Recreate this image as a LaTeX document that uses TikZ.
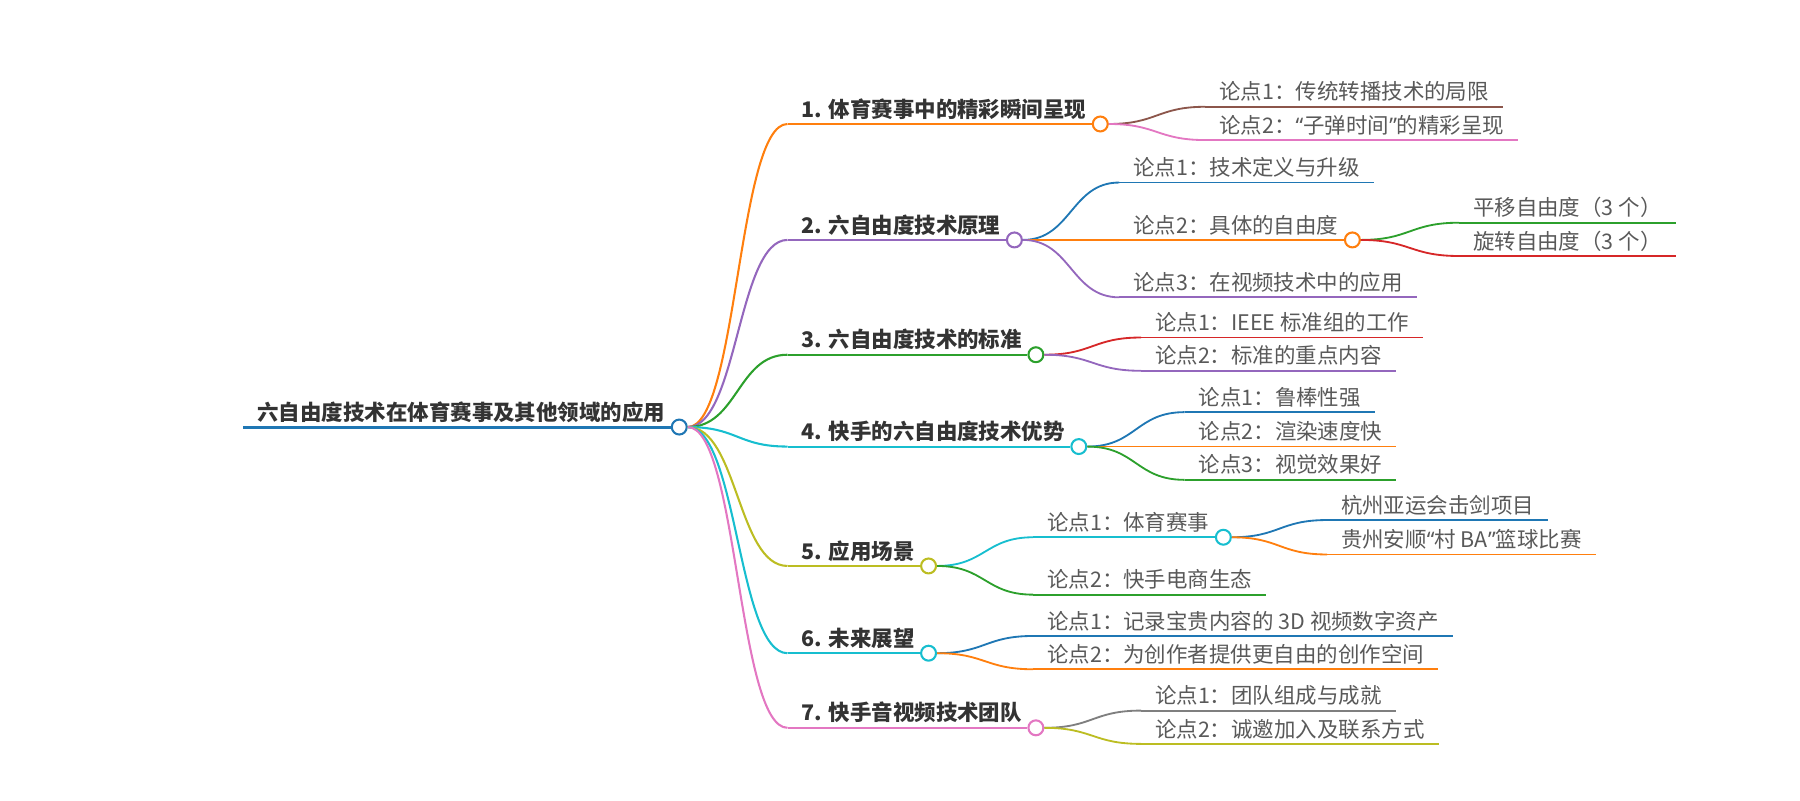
\documentclass[tikz,border=0pt]{standalone}
\usepackage{fontspec}
\setmainfont{Noto Sans CJK SC}
\newfontfamily\latinq{Noto Sans}
\usetikzlibrary{calc}
\definecolor{cblue}{HTML}{1F77B4}
\definecolor{corange}{HTML}{FF7F0E}
\definecolor{cgreen}{HTML}{2CA02C}
\definecolor{cred}{HTML}{D62728}
\definecolor{cpurple}{HTML}{9467BD}
\definecolor{cbrown}{HTML}{8C564B}
\definecolor{cpink}{HTML}{E377C2}
\definecolor{cgray}{HTML}{7F7F7F}
\definecolor{colive}{HTML}{BCBD22}
\definecolor{ccyan}{HTML}{17BECF}
\definecolor{txtdark}{HTML}{333333}
\definecolor{txtgray}{HTML}{595959}
\newcommand\lw{1.8pt}
\tikzset{
  lvlone/.style={anchor=base west, inner sep=0pt, font=\fontsize{18.7}{22}\selectfont\bfseries, text=txtdark},
  lvltwo/.style={anchor=base west, inner sep=0pt, font=\fontsize{18.7}{22}\selectfont, text=txtgray},
  link/.style={line width=\lw},
  dot/.style={circle, draw, fill=white, line width=1.8pt, minimum size=13pt, inner sep=0pt},
  sconn/.style={to path={let \p1=(\tikztostart), \p2=(\tikztotarget) in
     .. controls ({(\x1+\x2)/2},\y1) and ({(\x1+\x2)/2},\y2) .. (\tikztotarget)}}
}
\newcommand\qo{{\latinq “}}
\newcommand\qc{{\latinq ”}}
% leaf: name, colour, line start x, line y, style, text
\newcommand\leafnode[6]{%
  \coordinate (#1-s) at (#3,#4);
  \node[#5] (#1) at (#3+12,#4-6) {#6};
  \coordinate (#1-e) at ($(#1.east |- #1-s)+(12,0)$);
  \draw[link,#2] (#1-s) -- (#1-e);
}
% branch: name, colour, line start x, line y, style, text
\newcommand\branchnode[6]{%
  \coordinate (#1-s) at (#3,#4);
  \node[#5] (#1) at (#3+12,#4-6) {#6};
  \node[dot,draw=#2] (#1-c) at ($(#1.east |- #1-s)+(12,0)$) {};
  \draw[link,#2] (#1-s) -- (#1-c.west);
}
\begin{document}
\begin{tikzpicture}[x=1pt,y=-1pt]
\useasboundingbox (0,0) rectangle (1568,696.9);
% root
\renewcommand\lw{2.6pt}
\branchnode{r}{cblue}{212}{372}{lvlone}{六自由度技术在体育赛事及其他领域的应用}
% level one
\renewcommand\lw{1.8pt}
\branchnode{a}{corange}{686}{108}{lvlone}{1. 体育赛事中的精彩瞬间呈现}
\branchnode{b}{cpurple}{686}{209}{lvlone}{2. 六自由度技术原理}
\branchnode{c}{cgreen}{686}{309}{lvlone}{3. 六自由度技术的标准}
\branchnode{d}{ccyan}{686}{389}{lvlone}{4. 快手的六自由度技术优势}
\branchnode{e}{colive}{686}{493}{lvlone}{5. 应用场景}
\branchnode{f}{ccyan}{686}{569}{lvlone}{6. 未来展望}
\branchnode{g}{cpink}{686}{634}{lvlone}{7. 快手音视频技术团队}
\draw[link,corange] (r-c.east) to[sconn] (a-s);
\draw[link,cpurple] (r-c.east) to[sconn] (b-s);
\draw[link,cgreen] (r-c.east) to[sconn] (c-s);
\draw[link,ccyan] (r-c.east) to[sconn] (d-s);
\draw[link,colive] (r-c.east) to[sconn] (e-s);
\draw[link,ccyan] (r-c.east) to[sconn] (f-s);
\draw[link,cpink] (r-c.east) to[sconn] (g-s);
% level two
\renewcommand\lw{1.6pt}
\leafnode{a1}{cbrown}{1050}{93}{lvltwo}{论点1：传统转播技术的局限}
\leafnode{a2}{cpink}{1050}{122}{lvltwo}{论点2：\qo 子弹时间\qc 的精彩呈现}
\leafnode{b1}{cblue}{975}{159}{lvltwo}{论点1：技术定义与升级}
\branchnode{b2}{corange}{975}{209}{lvltwo}{论点2：具体的自由度}
\leafnode{b21}{cgreen}{1271}{194}{lvltwo}{平移自由度（3 个）}
\leafnode{b22}{cred}{1271}{223}{lvltwo}{旋转自由度（3 个）}
\leafnode{b3}{cpurple}{975}{259}{lvltwo}{论点3：在视频技术中的应用}
\leafnode{c1}{cred}{994}{294}{lvltwo}{论点1：IEEE 标准组的工作}
\leafnode{c2}{cpurple}{994}{323}{lvltwo}{论点2：标准的重点内容}
\leafnode{d1}{cblue}{1032}{359}{lvltwo}{论点1：鲁棒性强}
\leafnode{d2}{corange}{1032}{389}{lvltwo}{论点2：渲染速度快}
\leafnode{d3}{cgreen}{1032}{418}{lvltwo}{论点3：视觉效果好}
\branchnode{e1}{ccyan}{900}{468}{lvltwo}{论点1：体育赛事}
\leafnode{e11}{cblue}{1156}{453}{lvltwo}{杭州亚运会击剑项目}
\leafnode{e12}{corange}{1156}{483}{lvltwo}{贵州安顺\qo 村 BA\qc 篮球比赛}
\leafnode{e2}{cgreen}{900}{518}{lvltwo}{论点2：快手电商生态}
\leafnode{f1}{cblue}{900}{554}{lvltwo}{论点1：记录宝贵内容的 3D 视频数字资产}
\leafnode{f2}{corange}{900}{583}{lvltwo}{论点2：为创作者提供更自由的创作空间}
\leafnode{g1}{cgray}{994}{619}{lvltwo}{论点1：团队组成与成就}
\leafnode{g2}{colive}{994}{648}{lvltwo}{论点2：诚邀加入及联系方式}
% connectors
\draw[link,cbrown] (a-c.east) to[sconn] (a1-s);
\draw[link,cpink] (a-c.east) to[sconn] (a2-s);
\draw[link,cblue] (b-c.east) to[sconn] (b1-s);
\draw[link,corange] (b-c.east) to[sconn] (b2-s);
\draw[link,cpurple] (b-c.east) to[sconn] (b3-s);
\draw[link,cgreen] (b2-c.east) to[sconn] (b21-s);
\draw[link,cred] (b2-c.east) to[sconn] (b22-s);
\draw[link,cred] (c-c.east) to[sconn] (c1-s);
\draw[link,cpurple] (c-c.east) to[sconn] (c2-s);
\draw[link,cblue] (d-c.east) to[sconn] (d1-s);
\draw[link,corange] (d-c.east) to[sconn] (d2-s);
\draw[link,cgreen] (d-c.east) to[sconn] (d3-s);
\draw[link,ccyan] (e-c.east) to[sconn] (e1-s);
\draw[link,cgreen] (e-c.east) to[sconn] (e2-s);
\draw[link,cblue] (e1-c.east) to[sconn] (e11-s);
\draw[link,corange] (e1-c.east) to[sconn] (e12-s);
\draw[link,cblue] (f-c.east) to[sconn] (f1-s);
\draw[link,corange] (f-c.east) to[sconn] (f2-s);
\draw[link,cgray] (g-c.east) to[sconn] (g1-s);
\draw[link,colive] (g-c.east) to[sconn] (g2-s);
\end{tikzpicture}
\end{document}
